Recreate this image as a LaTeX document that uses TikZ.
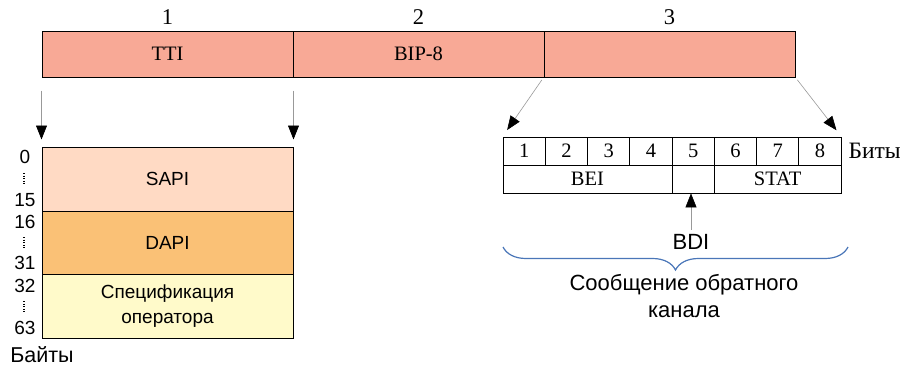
\documentclass[tikz,border=0pt]{standalone}
\usepackage{fontspec}
\setmainfont{Liberation Serif}
\setsansfont{Liberation Sans}
\usetikzlibrary{arrows.meta, positioning, decorations.pathreplacing}
\definecolor{fieldred}{RGB}{248,169,150}
\definecolor{sapicol}{RGB}{255,218,196}
\definecolor{dapicol}{RGB}{250,193,118}
\definecolor{speccol}{RGB}{255,250,202}
\definecolor{bracecol}{RGB}{74,118,184}
\tikzset{
    fieldbox/.style={draw, line width=1pt, fill=fieldred, minimum width=251pt, minimum height=46pt, inner sep=0pt, font=\fontsize{20.5}{24}\selectfont},
    bytebox/.style={draw, line width=1pt, minimum width=251pt, inner sep=0pt, align=center, font=\sffamily\fontsize{19}{25}\selectfont},
    bitbox/.style={draw, line width=0.8pt, minimum height=28pt, inner sep=0pt, font=\fontsize{20.5}{24}\selectfont},
    bytenum/.style={font=\sffamily\fontsize{19}{20}\selectfont, inner sep=0pt},
    arr/.style={draw=gray!80, line width=0.6pt, -{Triangle[length=14pt, width=11pt, color=black]}}
}
\begin{document}
\begin{tikzpicture}[x=1pt, y=-1pt]
    \useasboundingbox (0,0) rectangle (906,367);
    % поля заголовка
    \foreach \t [count=\i] in {TTI,BIP-8,{}} {
        \node[fieldbox] (F\i) at (167.5+251*\i-251,54) {\t};
        \node[font=\fontsize{22.5}{24}\selectfont] at (167.5+251*\i-251,17) {\i};
    }
    % байты TTI
    \node[bytebox, fill=sapicol, minimum height=64pt] (SAPI) at (167.5,179) {SAPI};
    \node[bytebox, fill=dapicol, minimum height=63pt] (DAPI) at (167.5,242.5) {DAPI};
    \node[bytebox, fill=speccol, minimum height=64pt] (SPEC) at (167.5,306) {Спецификация\\оператора};
    \foreach \n/\y in {0/157,15/200,16/222,31/263,32/286,63/328} {
        \node[bytenum] at (25,\y) {\n};
    }
    \foreach \y in {179,243,307} {
        \draw[line width=1.2pt, dash pattern=on 1pt off 1.6pt] (24,\y-6) -- (24,\y+7);
    }
    \node[font=\sffamily\fontsize{21.5}{24}\selectfont] (BYTES) at (42,355) {Байты};
    % биты
    \foreach \i in {1,...,8} {
        \node[bitbox, minimum width=42.25pt] (B\i) at (503+42.25*\i-21.125,151) {\i};
    }
    \node[bitbox, minimum width=169pt] (BEI) at (587.5,179) {BEI};
    \node[bitbox, minimum width=42.25pt] (BX) at (693.1,179) {};
    \node[bitbox, minimum width=126.75pt] (STAT) at (777.6,179) {STAT};
    \node[anchor=west, font=\fontsize{23.5}{24}\selectfont] (BITS) at (845,151) {Биты};
    % стрелки
    \draw[arr, shorten <=13pt, shorten >=7pt] (F1.south west) -- (SAPI.north west);
    \draw[arr, shorten <=13pt, shorten >=7pt] (F1.south east) -- (SAPI.north east);
    \draw[arr, shorten <=3pt, shorten >=8pt] (F3.south west) -- (B1.north west);
    \draw[arr, shorten <=3pt, shorten >=8pt] (F3.south east) -- (B8.north east);
    \node[font=\sffamily\fontsize{22}{24}\selectfont] (BDI) at (691,242) {BDI};
    \draw[arr, shorten <=1pt] (BDI.north) -- (BDI.north |- BX.south);
    % скобка
    \coordinate (BRL) at (503,247);
    \coordinate (BRR) at (848,247);
    \draw[bracecol, line width=1.2pt, decorate, decoration={brace, amplitude=23pt}] (BRR) -- (BRL);
    \node[align=center, font=\sffamily\fontsize{22}{27}\selectfont] (MSG) at (684,296) {Сообщение обратного\\канала};
\end{tikzpicture}
\end{document}
